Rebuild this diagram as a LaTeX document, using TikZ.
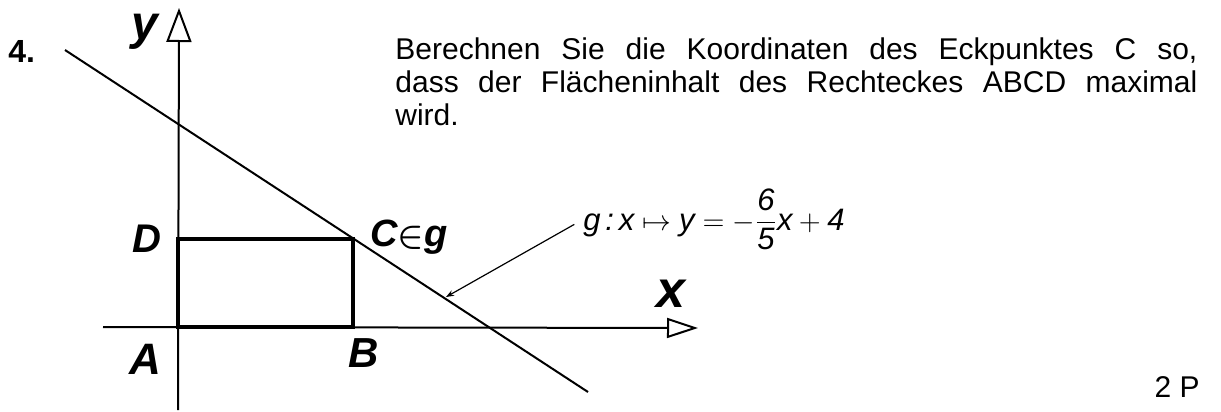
\documentclass[tikz,border=0pt]{standalone}
\usepackage{amsmath}
\usepackage{fontspec}
\setmainfont{Liberation Sans}
\usetikzlibrary{arrows.meta}

\begin{document}
\begin{tikzpicture}[
    x=0.5pt, y=-0.5pt,
    txt/.style={inner sep=0pt, font=\fontsize{15}{16.5}\selectfont},
    hand/.style={inner sep=0pt, font=\fontsize{#1}{#1}\selectfont\itshape\bfseries\boldmath},
    axisline/.style={line width=1pt},
    rectline/.style={line width=1.6pt},
    gline/.style={line width=1pt},
    leader/.style={line width=0.6pt, -{Stealth[length=4pt,width=3pt]}}
]
\useasboundingbox (0,0) rectangle (1221,412);

% Corner points and ends
\coordinate (A) at (178,327);
\coordinate (B) at (353,327);
\coordinate (C) at (353,239);
\coordinate (D) at (178,239);
\coordinate (gstart) at (65,50);
\coordinate (gend) at (588,392);
\coordinate (gmark) at (446,297);

% Axes
\coordinate (ybot) at (178,410);
\coordinate (ytop) at (179,8);
\coordinate (xleft) at (103,327);
\coordinate (xright) at (698,328);
\draw[axisline, -{Triangle[open, length=17pt, width=12.5pt]}] (ybot) -- (ytop);
\draw[axisline, -{Triangle[open, length=15.5pt, width=10pt]}] (xleft) -- (xright);

% Line g and rectangle ABCD
\draw[gline] (gstart) -- (gend);
\draw[rectline] (A) -- (B) -- (C) -- (D) -- cycle;

% Handwritten labels
\node[hand=24] (ylab) at (145,32) {y};
\node[hand=26] (xlab) at (671,294) {x};
\node[hand=20] (Dlab) at (147,239) {D};
\node[hand=22] (Alab) at (145,359) {A};
\node[hand=21] (Blab) at (364,353) {B};
\node[hand=19, anchor=base west] (Clab) at (370,246) {C$\in$g};

% Task text
\node[txt, font=\fontsize{16}{16}\selectfont\bfseries, anchor=base west] (num) at (8,62) {4.};
\node[txt, anchor=north west, text width=401pt, align=justify] (task) at (395,37)
    {Berechnen Sie die Koordinaten des Eckpunktes C so,\linebreak
     dass der Flächeninhalt des Rechteckes ABCD maximal\linebreak
     wird.};

% Equation of g with leader
\node[txt, font=\fontsize{15.5}{16}\selectfont, anchor=base west] (geq) at (583,230)
    {$\textit{g}\,\textit{:}\,\textit{x}\mapsto\textit{y}=-\dfrac{\textit{6}}{\textit{5}}\textit{x}+\textit{4}$};
\draw[leader, shorten <=5pt] (geq.west) -- (gmark);

\node[txt, anchor=base east] (pts) at (1200,397) {2 P};

\end{tikzpicture}
\end{document}
